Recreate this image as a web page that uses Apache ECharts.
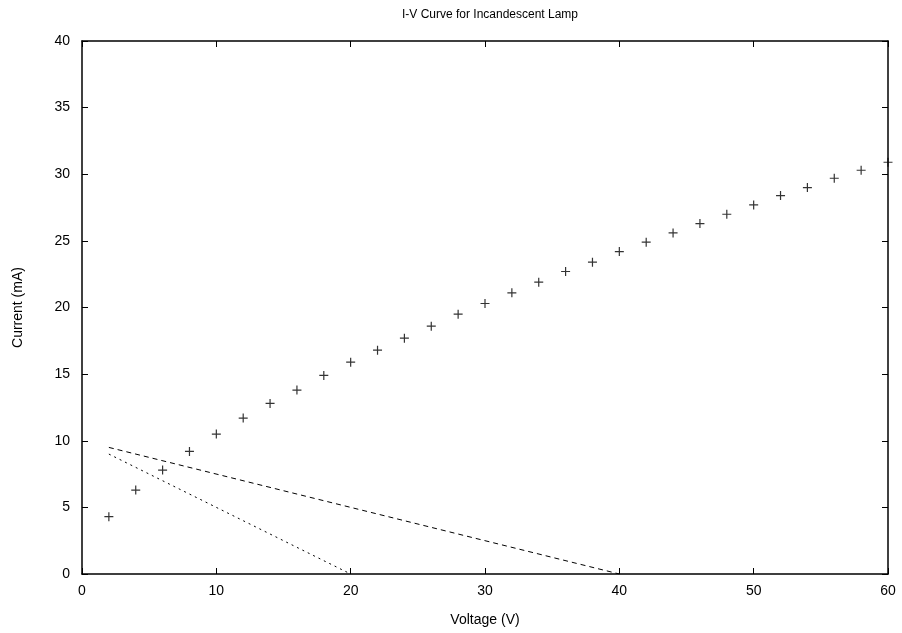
<!DOCTYPE html>
<html><head><meta charset="utf-8">
<script src="https://cdn.jsdelivr.net/npm/echarts@6/dist/echarts.min.js"></script>
<style>html,body{margin:0;padding:0;background:#fff}#c{width:902px;height:633px}</style>
</head><body><div id="c"></div>
<script>
const voltage = [2,4,6,8,10,12,14,16,18,20,22,24,26,28,30,32,34,36,38,40,42,44,46,48,50,52,54,56,58,60];
const current = [4.3,6.3,7.8,9.2,10.5,11.7,12.8,13.8,14.9,15.9,16.8,17.7,18.6,19.5,20.3,21.1,21.9,22.7,23.4,24.2,24.9,25.6,26.3,27.0,27.7,28.4,29.0,29.7,30.3,30.9];
const loadLineA = [[2,9.5],[40,0]];
const loadLineB = [[2,9],[20,0]];
const font = 'Liberation Sans, Arial, sans-serif';
const chart = echarts.init(document.getElementById('c'));
const axisCommon = {
  axisLine:{show:true,onZero:false,lineStyle:{color:'#000',width:1.5}},
  axisTick:{show:true,inside:true,length:6,lineStyle:{color:'#000',width:1}},
  splitLine:{show:false}
};
chart.setOption({
  animation:false,
  title:{text:'I-V Curve for Incandescent Lamp',left:485,textAlign:'center',top:4,
    textStyle:{fontFamily:font,fontSize:12,fontWeight:'normal',color:'#000'}},
  grid:{left:82,right:14,top:41,bottom:59},
  xAxis:[
    Object.assign({type:'value',min:0,max:60,interval:10,position:'bottom',
      name:'Voltage (V)',nameLocation:'middle',nameGap:39,
      nameTextStyle:{fontFamily:font,fontSize:14,color:'#000'},
      axisLabel:{fontFamily:font,fontSize:14,color:'#000',margin:10}},axisCommon),
    Object.assign({type:'value',min:0,max:60,interval:10,position:'top',
      axisLabel:{show:false}},axisCommon)
  ],
  yAxis:[
    Object.assign({type:'value',min:0,max:40,interval:5,position:'left',
      name:'Current (mA)',nameLocation:'middle',nameGap:57,nameRotate:90,
      nameTextStyle:{fontFamily:font,fontSize:14,color:'#000'},
      axisLabel:{fontFamily:font,fontSize:14,color:'#000',margin:12}},axisCommon),
    Object.assign({type:'value',min:0,max:40,interval:5,position:'right',
      axisLabel:{show:false}},axisCommon)
  ],
  series:[
    {type:'scatter',data:voltage.map((v,i)=>[v,current[i]]),
      symbol:'path://M5,0L5,10M0,5L10,5',symbolSize:9,
      itemStyle:{color:'none',borderColor:'#000',borderWidth:1.2},clip:true},
    {type:'line',data:loadLineA,showSymbol:false,symbol:'none',
      lineStyle:{color:'#000',width:1,type:[5,4]}},
    {type:'line',data:loadLineB,showSymbol:false,symbol:'none',
      lineStyle:{color:'#000',width:1,type:[2,4]}}
  ]
});
</script></body></html>
